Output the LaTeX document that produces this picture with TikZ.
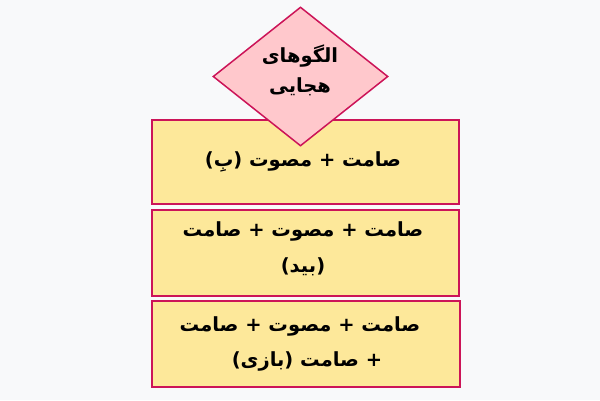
\documentclass[tikz,border=0pt]{standalone}
\usepackage{fontspec}
\usepackage{tikz}
\usetikzlibrary{shapes.geometric}
\newfontfamily\farsi[Script=Arabic]{DejaVu Sans}
\TeXXeTstate=1
\definecolor{bgpage}{HTML}{F8F9FA}
\definecolor{rimred}{HTML}{CC1458}
\definecolor{boxyellow}{HTML}{FDE89A}
\definecolor{diampink}{HTML}{FFC8CC}
\tikzset{
  pattbox/.style={draw=rimred, line width=1.5pt, fill=boxyellow, rectangle, inner sep=0pt},
  farsitext/.style={font=\farsi\bfseries\fontsize{19.5}{36}\selectfont, align=center, text=black}
}

\begin{document}
\begin{tikzpicture}[x=1pt, y=-1pt]
\fill[bgpage] (0,0) rectangle (600,400);
\useasboundingbox (0,0) rectangle (600,400);

\node[pattbox, minimum width=307pt, minimum height=84pt] (syl1) at (305.5,162) {};
\node[pattbox, minimum width=307pt, minimum height=86pt] (syl2) at (305.5,253) {};
\node[pattbox, minimum width=308pt, minimum height=86pt] (syl3) at (306,344) {};

\node[diamond, draw=rimred, line width=1.5pt, fill=diampink, inner sep=0pt,
      minimum width=175pt, minimum height=139pt] (patterns) at (300.5,76.5) {};

\node[farsitext] (t0a) at (300,56) {\beginR الگوهای\endR};
\node[farsitext] (t0b) at (300,87) {\beginR هجایی\endR};
\node[farsitext] (t1) at (303,162) {\beginR صامت + مصوت (بِ)\endR};
\node[farsitext] (t2a) at (303,231) {\beginR صامت + مصوت + صامت\endR};
\node[farsitext] (t2b) at (303,267) {\beginR (بید)\endR};
\node[farsitext] (t3a) at (300,326) {\beginR صامت + مصوت + صامت\endR};
\node[farsitext] (t3b) at (307,361) {\beginR + صامت (بازی)\endR};
\end{tikzpicture}
\end{document}
